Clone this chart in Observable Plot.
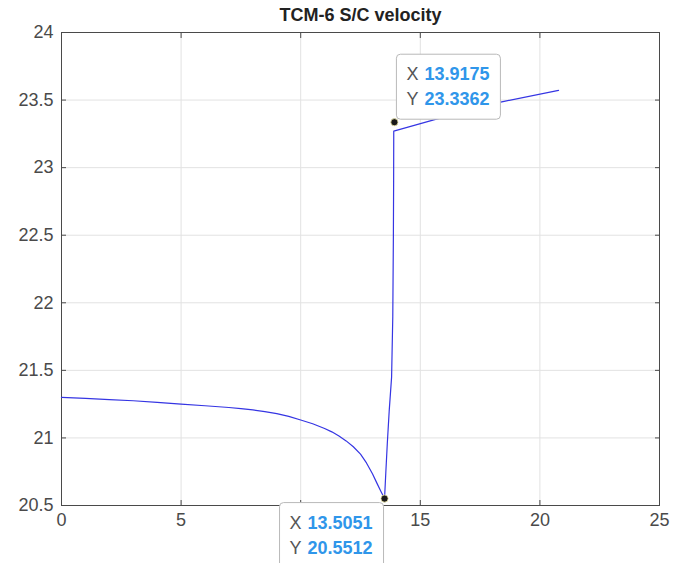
<!DOCTYPE html>
<html>
<head>
<meta charset="utf-8">
<script src="https://cdn.jsdelivr.net/npm/d3@7"></script>
<script src="https://cdn.jsdelivr.net/npm/@observablehq/plot@0.6"></script>
<style>
  html, body { margin: 0; padding: 0; background: #fff; }
  svg { display: block; }
</style>
</head>
<body>
<div id="chart"></div>
<script>
// ---- data ----
const chartTitle = "TCM-6 S/C velocity";
const timeX = [0, 1, 2, 3, 4, 5, 6, 7, 7.5, 8, 8.5, 9, 9.5, 10, 10.5, 11, 11.3, 11.6, 11.9, 12.2, 12.5, 12.75, 13.0, 13.2, 13.35, 13.5051,
               13.56, 13.62, 13.70, 13.80, 13.85, 13.875, 13.885, 13.89,
               15.6, 18.31, 20.78];
const velocityY = [21.300, 21.292, 21.284, 21.275, 21.263, 21.250, 21.238, 21.225, 21.217, 21.207, 21.195, 21.180, 21.160, 21.133, 21.105, 21.070, 21.045, 21.015, 20.978, 20.935, 20.880, 20.815, 20.735, 20.660, 20.605, 20.5512,
                   20.75, 20.957, 21.20, 21.45, 21.90, 22.50, 22.90, 23.27,
                   23.355, 23.483, 23.572];
const xTicks = [0, 5, 10, 15, 20, 25];
// the "10" label is hidden behind the lower data tip in the reference
const xTickLabels = ["0", "5", "", "15", "20", "25"];
const yTicks = [20.5, 21, 21.5, 22, 22.5, 23, 23.5, 24];
const yTickLabels = ["20.5", "21", "21.5", "22", "22.5", "23", "23.5", "24"];
const tipX = [13.9175, 13.5051];
const tipY = [23.3362, 20.5512];

const series = timeX.map((x, i) => ({x, y: velocityY[i]}));
const tips = tipX.map((x, i) => ({x, y: tipY[i]}));
const fmt = d3.format(".4f");

const font = "'Liberation Sans', Arial, Helvetica, sans-serif";
const axisColor = "#4a4a4a";
const blue = "#2f96ea";

function boxSymbol(x0, y0, w, h, r) {
  return {
    draw(ctx) {
      ctx.moveTo(x0 + r, y0);
      ctx.lineTo(x0 + w - r, y0);
      ctx.arcTo(x0 + w, y0, x0 + w, y0 + r, r);
      ctx.lineTo(x0 + w, y0 + h - r);
      ctx.arcTo(x0 + w, y0 + h, x0 + w - r, y0 + h, r);
      ctx.lineTo(x0 + r, y0 + h);
      ctx.arcTo(x0, y0 + h, x0, y0 + h - r, r);
      ctx.lineTo(x0, y0 + r);
      ctx.arcTo(x0, y0, x0 + r, y0, r);
      ctx.closePath();
    }
  };
}

const upper = [tips[0]];
const lower = [tips[1]];

function tipMarks(data, o) {
  return [
    Plot.dot(data, {x: "x", y: "y", symbol: boxSymbol(o.bx, o.by, 104, 65, 4), r: 5,
                    fill: "#ffffff", stroke: "#b9b9b9", strokeWidth: 1}),
    Plot.text(data, {x: "x", y: "y", text: () => "X", dx: o.tx, dy: o.ty1, textAnchor: "start", lineAnchor: "bottom",
                     fontSize: 18, fill: "#555555"}),
    Plot.text(data, {x: "x", y: "y", text: d => fmt(d.x), dx: o.tx + 18, dy: o.ty1, textAnchor: "start", lineAnchor: "bottom",
                     fontSize: 18, fontWeight: "bold", fill: blue}),
    Plot.text(data, {x: "x", y: "y", text: () => "Y", dx: o.tx, dy: o.ty2, textAnchor: "start", lineAnchor: "bottom",
                     fontSize: 18, fill: "#555555"}),
    Plot.text(data, {x: "x", y: "y", text: d => fmt(d.y), dx: o.tx + 18, dy: o.ty2, textAnchor: "start", lineAnchor: "bottom",
                     fontSize: 18, fontWeight: "bold", fill: blue})
  ];
}

const chart = Plot.plot({
  width: 674,
  height: 563,
  marginLeft: 61,
  marginRight: 15,
  marginTop: 32,
  marginBottom: 58,
  style: {fontFamily: font, background: "#fff"},
  x: {domain: [0, 25]},
  y: {domain: [20.5, 24]},
  marks: [
    Plot.gridX(xTicks, {stroke: "#e2e2e2", strokeOpacity: 1}),
    Plot.gridY(yTicks, {stroke: "#e2e2e2", strokeOpacity: 1}),
    Plot.frame({stroke: axisColor}),
    Plot.axisX(xTicks, {anchor: "bottom", tickSize: -5, tickPadding: 13, fontSize: 18, color: axisColor, label: null,
                        tickFormat: d => xTickLabels[xTicks.indexOf(d)]}),
    Plot.axisX(xTicks, {anchor: "top", tickSize: -5, tickFormat: () => "", color: axisColor, label: null}),
    Plot.axisY(yTicks, {anchor: "left", tickSize: -5, tickPadding: 13, fontSize: 18, color: axisColor, label: null,
                        tickFormat: d => yTickLabels[yTicks.indexOf(d)]}),
    Plot.axisY(yTicks, {anchor: "right", tickSize: -5, tickFormat: () => "", color: axisColor, label: null}),
    Plot.line(series, {x: "x", y: "y", stroke: "#3535e3", strokeWidth: 1.2, curve: "linear"}),
    ...tipMarks(upper, {bx: 2, by: -68, tx: 12, ty1: -42, ty2: -17}),
    ...tipMarks(lower, {bx: -105, by: 4, tx: -95, ty1: 30, ty2: 55}),
    Plot.dot(tips, {x: "x", y: "y", r: 3.6, fill: "#1a1a1a", stroke: "#eee9a8", strokeWidth: 0.8}),
    Plot.text([chartTitle], {text: d => d, frameAnchor: "top", dy: -17, lineAnchor: "middle",
                             fontSize: 18, fontWeight: "bold", fill: "#222"})
  ]
});
document.getElementById("chart").appendChild(chart);
</script>
</body>
</html>
